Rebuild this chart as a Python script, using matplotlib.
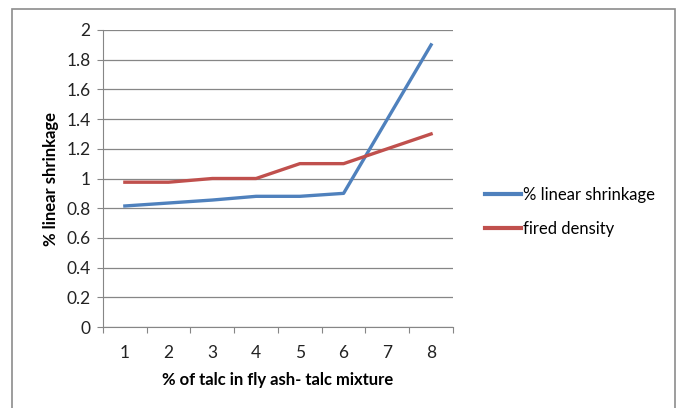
import matplotlib.pyplot as plt
from matplotlib.patches import Rectangle

# talc content categories and the two measured series
categories = ["1", "2", "3", "4", "5", "6", "7", "8"]
shrinkage = [0.815, 0.835, 0.855, 0.88, 0.88, 0.90, 1.40, 1.90]
fired_density = [0.975, 0.975, 1.0, 1.0, 1.1, 1.1, 1.2, 1.3]
y_ticks = [0, 0.2, 0.4, 0.6, 0.8, 1, 1.2, 1.4, 1.6, 1.8, 2]
y_tick_labels = ["0", "0.2", "0.4", "0.6", "0.8", "1", "1.2", "1.4", "1.6", "1.8", "2"]

plt.rcParams["font.family"] = ["Lato", "DejaVu Sans"]

fig = plt.figure(figsize=(6.78, 4.08), dpi=100)
ax = fig.add_axes([0.1519, 0.1985, 0.5162, 0.728])

# chart frame (open at the bottom)
fig.patches.append(Rectangle((12 / 678, -0.05), 663 / 678, 1.05 - 9 / 408,
                             transform=fig.transFigure, fill=False,
                             edgecolor="#8c8c8c", linewidth=1.2))

x = list(range(1, len(categories) + 1))
ax.plot(x, shrinkage, color="#4F81BD", linewidth=2.4, label="% linear shrinkage")
ax.plot(x, fired_density, color="#C0504D", linewidth=2.4, label="fired density")

ax.set_xlim(0.5, len(categories) + 0.5)
ax.set_ylim(0, 2)
ax.set_yticks(y_ticks)
ax.set_yticklabels(y_tick_labels)

# category boundaries get the tick marks, labels sit in the middle
ax.set_xticks([i + 0.5 for i in range(len(categories) + 1)])
ax.set_xticklabels([])
ax.set_xticks(x, minor=True)
ax.set_xticklabels(categories, minor=True)
ax.tick_params(axis="x", which="major", length=4, color="#868686")
ax.tick_params(axis="x", which="minor", length=0, pad=13, labelsize=12.5, labelcolor="#222222")
ax.tick_params(axis="y", length=4, pad=5, color="#868686", labelsize=12.5, labelcolor="#222222")

ax.grid(axis="y", color="#868686", linewidth=0.9)
ax.set_axisbelow(True)
for side in ("top", "right"):
    ax.spines[side].set_visible(False)
for side in ("left", "bottom"):
    ax.spines[side].set_color("#868686")

ax.set_xlabel("% of talc in fly ash- talc mixture", fontweight="bold", fontsize=12, labelpad=8)
ax.set_ylabel("% linear shrinkage", fontweight="bold", fontsize=12, labelpad=5)

fig.legend(loc="center left", bbox_to_anchor=(478 / 678, 1 - 212 / 408),
           frameon=False, fontsize=12, handlelength=2.2, handletextpad=0.1,
           labelspacing=1.1, borderaxespad=0)
for line in fig.legends[0].get_lines():
    line.set_linewidth(3)

fig.savefig("out.png", dpi=100)
